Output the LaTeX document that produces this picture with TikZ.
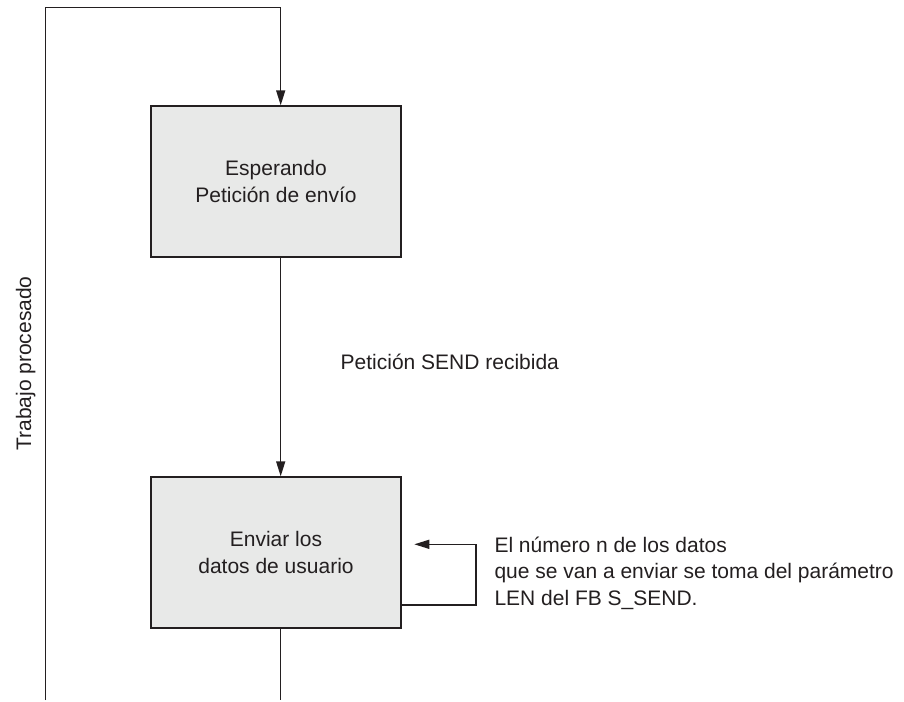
\documentclass[tikz,border=0pt]{standalone}
\usepackage{fontspec}
\setmainfont{Liberation Sans}
\usetikzlibrary{arrows.meta}
\definecolor{ink}{RGB}{35,31,32}
\definecolor{boxfill}{RGB}{232,233,232}
\begin{document}
\begin{tikzpicture}[x=1pt,y=-1pt,
  every node/.style={text=ink, font=\fontsize{21}{26.5}\selectfont},
  statebox/.style={draw=ink, fill=boxfill, line width=1.4pt, minimum width=250pt,
    minimum height=151pt, inner sep=0pt, align=center},
  flow/.style={draw=ink, line width=1.4pt},
  tip/.style={-{Triangle[length=15pt,width=9pt]}},
  lbl/.style={anchor=base west, inner sep=0pt, align=left}]
\useasboundingbox (0,0) rectangle (904,701);

% states
\node[statebox] (wait) at (276,181.5) {Esperando\\Petición de envío};
\node[statebox] (send) at (276,552.5) {Enviar los\\datos de usuario};

% corner points of the connectors
\coordinate (loopL) at (45.3,700);
\coordinate (loopTL) at (45.3,7.5);
\coordinate (loopTR) at (280.7,7.5);
\coordinate (outB) at (280.7,700);
\coordinate (selfR) at (476,605);
\coordinate (selfTip) at (414.3,544.3);

% return path: job done
\draw[flow,tip] (loopL) -- (loopTL) -- (loopTR) -- (loopTR |- wait.north);
% request received
\draw[flow,tip] (loopTR |- wait.south) -- (loopTR |- send.north);
% exit below
\draw[flow] (loopTR |- send.south) -- (outB);
% self loop while sending
\draw[flow,tip] (send.east |- selfR) -- (selfR) -- (selfR |- selfTip) -- (selfTip);

% labels
\node[rotate=90, anchor=base, inner sep=0pt] (done) at (31,363.5) {Trabajo procesado};
\node[lbl] (req) at (340.5,369) {Petición SEND recibida};
\node[lbl] (l1) at (494.3,552.3) {El número n de los datos};
\node[lbl] (l2) at (494.3,578.7) {que se van a enviar se toma del parámetro};
\node[lbl] (l3) at (494.3,605) {LEN del FB S\_SEND.};
\end{tikzpicture}
\end{document}
